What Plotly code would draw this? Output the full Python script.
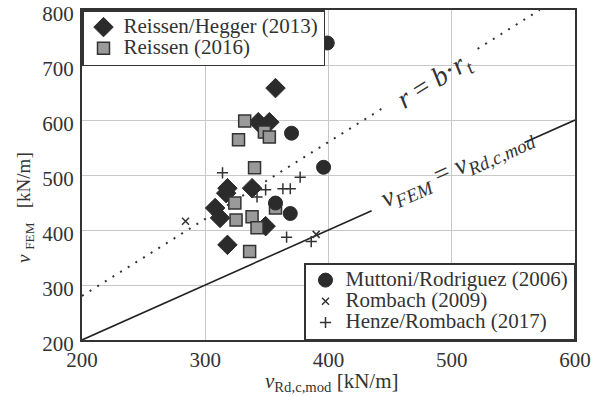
import plotly.graph_objects as go

# ---------------- data ----------------
x_ticks = [200, 300, 400, 500, 600]
y_ticks = [200, 300, 400, 500, 600, 700, 800]

rh2013_x = [357, 343, 352, 318, 317, 338, 308, 312, 349, 318]
rh2013_y = [658, 596, 596, 476, 467, 476, 440, 422, 407, 373]

r2016_x = [332, 348, 352, 327, 340, 324, 357, 325, 338, 342, 336]
r2016_y = [598, 578, 569, 564, 513, 449, 440, 418, 424, 404, 361]

mr2006_x = [399, 370, 396, 357, 369]
mr2006_y = [740, 576, 514, 449, 430]

rb2009_x = [284, 390]
rb2009_y = [416, 392]

hr2017_x = [314, 377, 349, 363, 369, 342, 366, 386]
hr2017_y = [504, 496, 473, 475, 475, 460, 387, 379]

# reference lines: r = b*r_t (dotted, b = 1.4) and v_FEM = v_Rd (solid)
b_ratio = 1.4
dot_seg1_x = [200, 447]
dot_seg2_x = [521, 571.4]
sol_seg1_x = [200, 435]
sol_seg2_x = [559, 600]

SERIF = '"Liberation Serif", serif'
DARK = "#2b2b2b"
LEG_SPAN = "<span style='font-size:21px'>{}</span>"

fig = go.Figure()

# reference lines
for xs in (dot_seg1_x, dot_seg2_x):
    fig.add_trace(go.Scatter(x=xs, y=[b_ratio * v for v in xs], mode="lines",
                             line=dict(color="#333", width=2, dash="2px,7px"),
                             showlegend=False, hoverinfo="skip"))
for xs in (sol_seg1_x, sol_seg2_x):
    fig.add_trace(go.Scatter(x=xs, y=list(xs), mode="lines",
                             line=dict(color="#222", width=1.6),
                             showlegend=False, hoverinfo="skip"))

# data series
fig.add_trace(go.Scatter(x=rh2013_x, y=rh2013_y, mode="markers",
                         name=LEG_SPAN.format("Reissen/Hegger (2013)"),
                         marker=dict(symbol="diamond", size=15, color=DARK,
                                     line=dict(color=DARK, width=1)),
                         legend="legend"))
fig.add_trace(go.Scatter(x=r2016_x, y=r2016_y, mode="markers",
                         name=LEG_SPAN.format("Reissen (2016)"),
                         marker=dict(symbol="square", size=12, color="#9a9a9a",
                                     line=dict(color="#333", width=1.5)),
                         legend="legend"))
fig.add_trace(go.Scatter(x=mr2006_x, y=mr2006_y, mode="markers",
                         name=LEG_SPAN.format("Muttoni/Rodriguez (2006)"),
                         marker=dict(symbol="circle", size=14, color=DARK,
                                     line=dict(color=DARK, width=1)),
                         legend="legend2"))
fig.add_trace(go.Scatter(x=rb2009_x, y=rb2009_y, mode="markers",
                         name=LEG_SPAN.format("Rombach (2009)"),
                         marker=dict(symbol="x-thin", size=7, color="#333",
                                     line=dict(color="#333", width=1.5)),
                         legend="legend2"))
fig.add_trace(go.Scatter(x=hr2017_x, y=hr2017_y, mode="markers",
                         name=LEG_SPAN.format("Henze/Rombach (2017)"),
                         marker=dict(symbol="cross-thin", size=8, color="#333",
                                     line=dict(color="#333", width=1.5)),
                         legend="legend2"))

axis_common = dict(showgrid=True, gridcolor="#c8c8c8", gridwidth=1,
                   showline=True, mirror=True, linecolor="#333", linewidth=2,
                   ticks="", zeroline=False, automargin=False,
                   ticklabeloverflow="allow",
                   tickfont=dict(family=SERIF, size=21, color="#333"))

fig.update_layout(
    width=602, height=398,
    margin=dict(l=82, r=27, t=10, b=58, autoexpand=False),
    paper_bgcolor="white", plot_bgcolor="white",
    xaxis=dict(range=[200, 600], tickvals=x_ticks, **axis_common),
    yaxis=dict(range=[200, 800], tickvals=y_ticks, ticklabelshift=4,
               ticklabelstandoff=2, **axis_common),
    font=dict(family=SERIF, color="#333"),
    legend=dict(x=0, y=1, xanchor="left", yanchor="top",
                bgcolor="white", bordercolor="#333", borderwidth=1.5,
                font=dict(family=SERIF, size=14, color="#333"),
                tracegroupgap=0, itemwidth=30),
    legend2=dict(x=1, y=0, xanchor="right", yanchor="bottom",
                 bgcolor="white", bordercolor="#333", borderwidth=1.5,
                 font=dict(family=SERIF, size=14, color="#333"),
                 tracegroupgap=0, itemwidth=30),
    annotations=[
        dict(text="<i>r</i> = <i>b</i>·<i>r</i><sub><i>t</i></sub>", x=486, y=670,
             xref="x", yref="y", showarrow=False, textangle=-32,
             font=dict(family=SERIF, size=28, color="#333")),
        dict(text="<i>ν</i><sub><i>FEM</i></sub> = <i>ν</i><sub><i>Rd,c,mod</i></sub>",
             x=505, y=512, xref="x", yref="y", showarrow=False, textangle=-24,
             font=dict(family=SERIF, size=27, color="#333")),
        dict(text="<i>ν</i> <sub>FEM</sub>   [kN/m]", x=-0.1156, y=0.40,
             xref="paper", yref="paper", xanchor="center", yanchor="middle",
             showarrow=False, textangle=-90,
             font=dict(family=SERIF, size=19, color="#333")),
        dict(text="<i>ν</i><sub>Rd,c,mod</sub> [kN/m]", x=0.507, y=-0.128,
             xref="paper", yref="paper", xanchor="center", yanchor="middle",
             showarrow=False,
             font=dict(family=SERIF, size=21, color="#333")),
    ],
)

fig.write_html("out.html", config={"displayModeBar": False},
               post_script="document.body.style.margin='0px';")
